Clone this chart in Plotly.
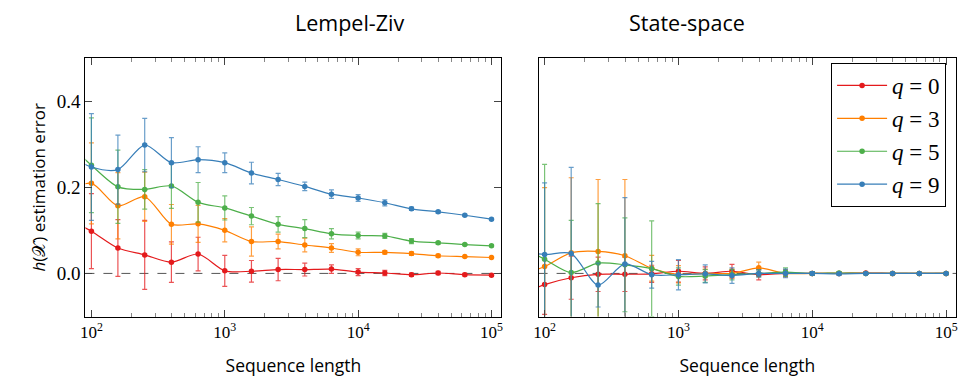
import plotly.graph_objects as go

# Sequence lengths (first point lies just outside the visible axis range)
X = [63.1, 100, 158, 251, 398, 631, 1000, 1585, 2512, 3981, 6310, 10000,
     15849, 25119, 39811, 63096, 100000]

SERIES = ["q = 0", "q = 3", "q = 5", "q = 9"]
LEGEND_TEXT = ["<i>q</i> = 0", "<i>q</i> = 3", "<i>q</i> = 5", "<i>q</i> = 9"]
COLORS = ["#e41a1c", "#ff7f00", "#4daf4a", "#377eb8"]
ERR_COLORS = ["rgba(228,26,28,0.75)", "rgba(255,127,0,0.75)",
              "rgba(77,175,74,0.75)", "rgba(55,126,184,0.75)"]

# Lempel-Ziv estimation error (mean and error-bar half-length)
LZ_Q0 = [0.13, 0.098, 0.059, 0.043, 0.026, 0.045, 0.006, 0.005, 0.009, 0.009, 0.010, 0.003, 0.001, -0.003, 0.001, -0.003, -0.004]
LZ_Q0_ERR = [0, 0.087, 0.066, 0.080, 0.047, 0.039, 0.036, 0.025, 0.026, 0.015, 0.010, 0.008, 0.006, 0.004, 0.004, 0.003, 0.003]
LZ_Q3 = [0.19, 0.209, 0.157, 0.178, 0.114, 0.115, 0.100, 0.074, 0.074, 0.066, 0.059, 0.049, 0.049, 0.046, 0.041, 0.039, 0.037]
LZ_Q3_ERR = [0, 0.094, 0.077, 0.057, 0.046, 0.043, 0.027, 0.034, 0.017, 0.016, 0.010, 0.008, 0.004, 0.004, 0.003, 0.002, 0.002]
LZ_Q5 = [0.31, 0.251, 0.201, 0.195, 0.203, 0.165, 0.152, 0.133, 0.114, 0.104, 0.092, 0.088, 0.087, 0.075, 0.071, 0.067, 0.064]
LZ_Q5_ERR = [0, 0.110, 0.085, 0.046, 0.052, 0.046, 0.028, 0.020, 0.018, 0.021, 0.012, 0.008, 0.006, 0.006, 0.003, 0.002, 0.002]
LZ_Q9 = [0.28, 0.247, 0.241, 0.298, 0.257, 0.264, 0.257, 0.233, 0.218, 0.202, 0.184, 0.175, 0.164, 0.150, 0.143, 0.135, 0.126]
LZ_Q9_ERR = [0, 0.124, 0.080, 0.062, 0.058, 0.030, 0.023, 0.025, 0.014, 0.010, 0.010, 0.008, 0.007, 0.004, 0.003, 0.002, 0.002]

# State-space estimation error
SS_Q0 = [-0.052, -0.026, -0.010, -0.002, -0.002, -0.001, 0.005, 0.000, 0.005, -0.003, 0.000, 0.000, 0.000, 0.001, 0.000, 0.000, 0.000]
SS_Q0_ERR = [0, 0.069, 0.050, 0.040, 0.040, 0.020, 0.025, 0.015, 0.016, 0.012, 0.008, 0.004, 0.003, 0.002, 0.002, 0.001, 0.001]
SS_Q3 = [-0.006, 0.016, 0.048, 0.051, 0.041, 0.012, -0.002, 0.000, 0.000, 0.013, 0.000, 0.000, 0.000, 0.000, 0.000, 0.000, 0.000]
SS_Q3_ERR = [0, 0.183, 0.174, 0.167, 0.177, 0.030, 0.020, 0.010, 0.010, 0.013, 0.006, 0.004, 0.003, 0.002, 0.002, 0.001, 0.001]
SS_Q5 = [0.065, 0.033, 0.002, 0.024, 0.020, 0.011, -0.007, -0.006, -0.003, 0.000, 0.003, 0.000, 0.001, 0.000, 0.000, 0.000, 0.000]
SS_Q5_ERR = [0, 0.220, 0.121, 0.138, 0.109, 0.111, 0.020, 0.015, 0.012, 0.008, 0.010, 0.004, 0.003, 0.002, 0.002, 0.001, 0.001]
SS_Q9 = [0.051, 0.044, 0.046, -0.027, 0.022, -0.003, -0.003, -0.001, -0.005, 0.000, 0.000, 0.000, -0.001, 0.000, 0.000, 0.000, 0.000]
SS_Q9_ERR = [0, 0.166, 0.200, 0.051, 0.154, 0.031, 0.035, 0.021, 0.018, 0.008, 0.010, 0.004, 0.003, 0.002, 0.002, 0.001, 0.001]

MAJOR_TICKS = [100, 1000, 10000, 100000]
MAJOR_TEXT = ["10<sup>2</sup>", "10<sup>3</sup>", "10<sup>4</sup>", "10<sup>5</sup>"]
MINOR_TICKS = [m * 10 ** e for e in (2, 3, 4) for m in range(2, 10)]
Y_TICKS = [0.0, 0.2, 0.4]
Y_TEXT = ["0.0", "0.2", "0.4"]

LZ = [(LZ_Q0, LZ_Q0_ERR), (LZ_Q3, LZ_Q3_ERR), (LZ_Q5, LZ_Q5_ERR), (LZ_Q9, LZ_Q9_ERR)]
SS = [(SS_Q0, SS_Q0_ERR), (SS_Q3, SS_Q3_ERR), (SS_Q5, SS_Q5_ERR), (SS_Q9, SS_Q9_ERR)]

fig = go.Figure()

for panel, (data, xa, ya) in enumerate([(LZ, "x", "y"), (SS, "x2", "y2")]):
    for i, (vals, errs) in enumerate(data):
        fig.add_trace(go.Scatter(
            x=X, y=vals, xaxis=xa, yaxis=ya,
            mode="lines+markers",
            name=LEGEND_TEXT[i], legendgroup=SERIES[i],
            showlegend=(panel == 1),
            line=dict(color=COLORS[i], width=1.2, shape="spline", smoothing=0.8),
            marker=dict(color=COLORS[i], size=5.5),
            error_y=dict(type="data", array=errs, visible=True,
                         color=ERR_COLORS[i], thickness=1.2, width=2.5),
        ))

SERIF = "Liberation Serif"
SANS = "Open Sans"

common_x = dict(
    type="log", range=[1.955, 5.074],
    tickmode="array", tickvals=MAJOR_TICKS, ticktext=MAJOR_TEXT,
    ticks="inside", ticklen=7, tickwidth=1, tickcolor="#444",
    minor=dict(tickmode="array", tickvals=MINOR_TICKS, ticks="inside",
               ticklen=4, tickwidth=1, tickcolor="#888", showgrid=False),
    showline=True, linecolor="black", linewidth=1, mirror="allticks",
    showgrid=False, zeroline=False,
    tickfont=dict(family=SERIF, size=17, color="black"),
    title=dict(text="Sequence length", font=dict(family=SANS, size=17.5, color="black"),
               standoff=18),
)

fig.update_layout(
    width=960, height=379,
    margin=dict(l=0, r=0, t=0, b=0),
    plot_bgcolor="white", paper_bgcolor="white",
    xaxis=dict(domain=[81 / 960, 500 / 960], anchor="y", **common_x),
    xaxis2=dict(domain=[537.5 / 960, 958 / 960], anchor="y2", **common_x),
    yaxis=dict(
        domain=[(379 - 316.5) / 379, (379 - 58) / 379], anchor="x",
        range=[-0.1, 0.5], tickmode="array", tickvals=Y_TICKS, ticktext=Y_TEXT,
        ticksuffix="\u2002\u2009", ticks="inside", ticklen=7, tickcolor="#444",
        showline=True, linecolor="black", linewidth=1, mirror="allticks",
        showgrid=False, zeroline=False,
        tickfont=dict(family=SERIF, size=19, color="black"),
        title=dict(text="<i>h</i>(𝒳) estimation error",
                   font=dict(family=SANS, size=17, color="black"), standoff=6),
    ),
    yaxis2=dict(
        domain=[(379 - 316.5) / 379, (379 - 58) / 379], anchor="x2",
        range=[-0.1, 0.5], showticklabels=False, ticks="",
        showline=True, linecolor="black", linewidth=1, mirror=True,
        showgrid=False, zeroline=False,
    ),
    legend=dict(
        x=948 / 960, xanchor="right", y=(379 - 63) / 379, yanchor="top",
        bgcolor="white", bordercolor="black", borderwidth=1,
        font=dict(family=SERIF, size=23, color="black"),
        tracegroupgap=0, itemwidth=50,
    ),
    showlegend=True,
    annotations=[
        dict(text="Lempel-Ziv", x=(81 + 500) / 2 / 960, y=(379 - 23) / 379,
             xref="paper", yref="paper", showarrow=False, yanchor="middle",
             font=dict(family=SANS, size=21.5, color="black")),
        dict(text="State-space", x=(537.5 + 958) / 2 / 960, y=(379 - 23) / 379,
             xref="paper", yref="paper", showarrow=False, yanchor="middle",
             font=dict(family=SANS, size=21.5, color="black")),
    ],
    shapes=[
        dict(type="line", xref="x domain", yref="y", x0=0, x1=1, y0=0, y1=0,
             line=dict(color="#555", width=1, dash="dash"), layer="below"),
        dict(type="line", xref="x2 domain", yref="y2", x0=0, x1=1, y0=0, y1=0,
             line=dict(color="#555", width=1, dash="dash"), layer="below"),
    ],
)

fig.write_html("out.html")
